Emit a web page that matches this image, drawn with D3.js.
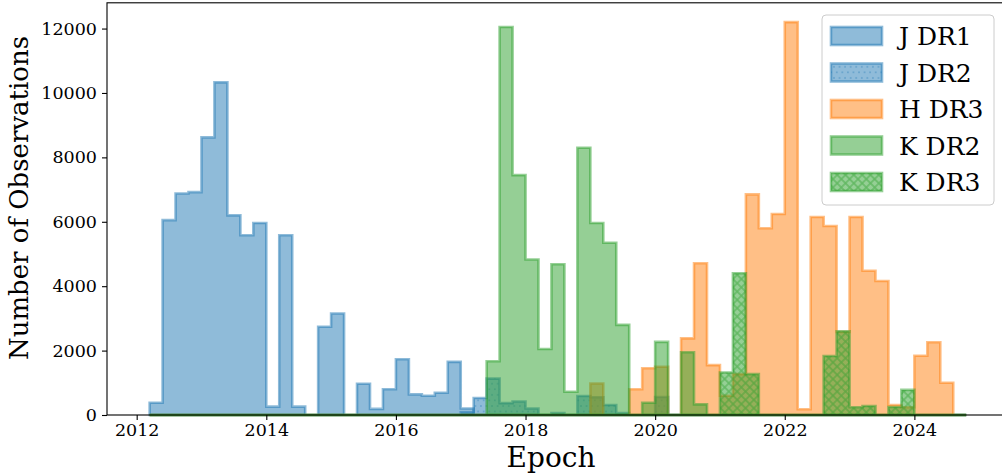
<!DOCTYPE html>
<html>
<head>
<meta charset="utf-8">
<script src="https://cdn.jsdelivr.net/npm/d3@7/dist/d3.min.js"></script>
<style>
  html, body { margin: 0; padding: 0; background: #fff; }
  svg { display: block; }
  text { font-family: "DejaVu Serif", serif; fill: #000; }
</style>
</head>
<body>
<svg id="chart" width="1002" height="476"></svg>
<script>
// ---- Data (bins of 0.2 yr starting at 2012.2, 63 bins) ----
const binStart = 2012.2;
const binWidth = 0.2;
const nBins = 63;

const seriesNames = ["J DR1", "J DR2", "H DR3", "K DR2", "K DR3"];
const seriesColors = ["#1f77b4", "#1f77b4", "#ff7f0e", "#2ca02c", "#2ca02c"];
const seriesHatch = ["none", "dots", "none", "none", "cross"];

const jDR1 = [380, 6050, 6880, 6920, 8620, 10330, 6200, 5580, 5960, 260,
              5580, 260, 0, 2740, 3150, 0, 970, 190, 800, 1730,
              640, 600, 690, 1650, 200, 0, 0, 0, 0, 0,
              0, 0, 0, 0, 0, 0, 0, 0, 0, 0,
              0, 0, 0, 0, 0, 0, 0, 0, 0, 0,
              0, 0, 0, 0, 0, 0, 0, 0, 0, 0,
              0, 0, 0];
const jDR2 = [0, 0, 0, 0, 0, 0, 0, 0, 0, 0,
              0, 0, 0, 0, 0, 0, 0, 0, 0, 0,
              0, 0, 0, 0, 80, 530, 1130, 370, 420, 200,
              0, 60, 0, 590, 550, 310, 60, 0, 0, 560,
              0, 0, 0, 0, 0, 0, 0, 0, 0, 0,
              0, 0, 0, 0, 0, 0, 0, 0, 0, 0,
              0, 0, 0];
const hDR3 = [0, 0, 0, 0, 0, 0, 0, 0, 0, 0,
              0, 0, 0, 0, 0, 0, 0, 0, 0, 0,
              0, 0, 0, 0, 0, 0, 0, 0, 0, 0,
              0, 0, 0, 0, 980, 0, 0, 800, 1450, 1500,
              0, 2380, 4710, 1550, 600, 1270, 6850, 5800, 6240, 12200,
              180, 6150, 5870, 2580, 6150, 4480, 4160, 310, 240, 1840,
              2260, 1000, 0];
const kDR2 = [0, 0, 0, 0, 0, 0, 0, 0, 0, 0,
              0, 0, 0, 0, 0, 0, 0, 0, 0, 0,
              0, 0, 0, 0, 0, 0, 1670, 12050, 7450, 4830,
              2050, 4680, 720, 8300, 5960, 5350, 2800, 0, 380, 2270,
              0, 1950, 330, 0, 0, 0, 0, 0, 0, 0,
              0, 0, 0, 0, 0, 0, 0, 0, 0, 0,
              0, 0, 0];
const kDR3 = [0, 0, 0, 0, 0, 0, 0, 0, 0, 0,
              0, 0, 0, 0, 0, 0, 0, 0, 0, 0,
              0, 0, 0, 0, 0, 0, 0, 0, 0, 0,
              0, 0, 0, 0, 0, 0, 0, 0, 0, 0,
              0, 0, 0, 0, 1320, 4400, 1270, 0, 0, 0,
              0, 0, 1830, 2600, 240, 280, 0, 250, 780, 0,
              0, 0, 0];
const seriesValues = [jDR1, jDR2, hDR3, kDR2, kDR3];

const xTicks = [2012, 2014, 2016, 2018, 2020, 2022, 2024];
const yTicks = [0, 2000, 4000, 6000, 8000, 10000, 12000];
const xLabel = "Epoch";
const yLabel = "Number of Observations";

// ---- Layout ----
const svg = d3.select("#chart");
const pLeft = 107, pRight = 1009, pTop = 2.8, pBottom = 415;
const x = d3.scaleLinear().domain([2011.542, 2025.46]).range([pLeft, pRight]);
const y = d3.scaleLinear().domain([0, 12800]).range([pBottom, pTop]);

const edges = d3.range(nBins + 1).map(i => Math.round((binStart + i * binWidth) * 10) / 10);

// ---- Patterns ----
const defs = svg.append("defs");
const ds = 5.56;
const dotPat = defs.append("pattern").attr("id", "dots")
  .attr("patternUnits", "userSpaceOnUse").attr("width", ds).attr("height", ds * 2);
[[0, 0], [ds, 0], [0, 2 * ds], [ds, 2 * ds], [ds / 2, ds]].forEach(p => {
  dotPat.append("circle").attr("cx", p[0]).attr("cy", p[1]).attr("r", 0.8)
    .attr("fill", "#1f77b4").attr("fill-opacity", 0.6);
});
const cs = 8.33 / Math.SQRT2;
const crossPat = defs.append("pattern").attr("id", "cross")
  .attr("patternUnits", "userSpaceOnUse").attr("width", cs).attr("height", cs)
  .attr("patternTransform", "rotate(45)");
crossPat.append("path")
  .attr("d", `M0,${cs / 2}H${cs}M${cs / 2},0V${cs}`)
  .attr("stroke", "#2ca02c").attr("stroke-opacity", 0.5).attr("stroke-width", 1.4).attr("fill", "none");

// ---- Clip ----
defs.append("clipPath").attr("id", "plotclip").append("rect")
  .attr("x", pLeft).attr("y", 0).attr("width", pRight - pLeft).attr("height", pBottom + 3);

// ---- Histograms ----
const line = d3.line().x(d => x(d[0])).y(d => y(d[1]));
const g = svg.append("g").attr("clip-path", "url(#plotclip)");
seriesValues.forEach((vals, si) => {
  const pts = [[edges[0], 0]];
  vals.forEach((v, i) => { pts.push([edges[i], v]); pts.push([edges[i + 1], v]); });
  pts.push([edges[nBins], 0]);
  const dStr = line(pts) + "Z";
  const col = seriesColors[si];
  g.append("path").attr("d", dStr).attr("fill", col).attr("fill-opacity", 0.5).attr("stroke", "none");
  if (seriesHatch[si] !== "none") {
    g.append("path").attr("d", dStr).attr("fill", `url(#${seriesHatch[si]})`).attr("stroke", "none");
  }
  g.append("path").attr("d", dStr).attr("fill", "none").attr("stroke", col)
    .attr("stroke-opacity", 0.5).attr("stroke-width", 2.6).attr("stroke-linejoin", "miter");
});

// ---- Axes ----
const xAxis = svg.append("g").attr("transform", `translate(0,${pBottom})`)
  .call(d3.axisBottom(x).tickValues(xTicks).tickFormat(d3.format("d")).tickSize(5).tickPadding(4).tickSizeOuter(0));
const yAxis = svg.append("g").attr("transform", `translate(${pLeft},0)`)
  .call(d3.axisLeft(y).tickValues(yTicks).tickFormat(d3.format("d")).tickSize(5).tickPadding(5).tickSizeOuter(0));
[xAxis, yAxis].forEach(a => {
  a.selectAll("text").style("font-family", "DejaVu Serif").style("font-size", "17.5px").attr("fill", "#000");
  a.selectAll("line").attr("stroke", "#000").attr("stroke-width", 1.1);
  a.select(".domain").remove();
});
// spines
svg.append("rect").attr("x", pLeft).attr("y", pTop).attr("width", pRight - pLeft).attr("height", pBottom - pTop)
  .attr("fill", "none").attr("stroke", "#000").attr("stroke-width", 1.1);

// ---- Labels ----
svg.append("text").attr("x", 551).attr("y", 467).attr("text-anchor", "middle")
  .style("font-size", "28px").text(xLabel);
svg.append("text").attr("transform", `translate(28,198) rotate(-90)`)
  .attr("text-anchor", "middle").style("font-size", "26px").text(yLabel);

// ---- Legend ----
const lg = svg.append("g");
lg.append("rect").attr("x", 822).attr("y", 15).attr("width", 172).attr("height", 190)
  .attr("rx", 4).attr("fill", "#fff").attr("fill-opacity", 0.8)
  .attr("stroke", "#cccccc").attr("stroke-width", 1);
seriesNames.forEach((name, si) => {
  const cy = 36 + si * 36.5;
  const col = seriesColors[si];
  const r = () => lg.append("rect").attr("x", 831).attr("y", cy - 9).attr("width", 51).attr("height", 18);
  r().attr("fill", col).attr("fill-opacity", 0.5);
  if (seriesHatch[si] !== "none") r().attr("fill", `url(#${seriesHatch[si]})`);
  r().attr("fill", "none").attr("stroke", col).attr("stroke-opacity", 0.5).attr("stroke-width", 2.6);
  lg.append("text").attr("x", 899).attr("y", cy + 9).style("font-size", "25px").text(name);
});
</script>
</body>
</html>
